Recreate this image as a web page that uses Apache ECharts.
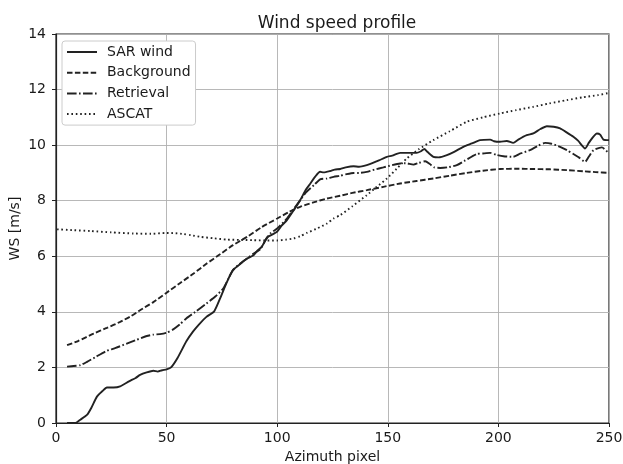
<!DOCTYPE html>
<html><head><meta charset="utf-8">
<script src="https://cdn.jsdelivr.net/npm/echarts@6/dist/echarts.min.js"></script>
<style>html,body{margin:0;padding:0;background:#fff}#c{width:623px;height:464px}</style>
</head><body><div id="c"></div>
<script>
const seriesNames = ['SAR wind', 'Background', 'Retrieval', 'ASCAT'];
const xTicks = [0, 50, 100, 150, 200, 250];
const yTicks = [0, 2, 4, 6, 8, 10, 12, 14];

const sarX = [5,8.8,11,14,16,18.5,21,23,26,29,33,36,38,41,44,46,48,50,52,55,59,62,65,68,71.5,74,77.3,80,83.3,86,89.3,91,93,95.4,97,99.9,102,104.4,107,110.4,113,115,117,119.4,121,124,126,128.5,131,134.5,137,140.5,143,146,149.6,152,155.6,159,163,165,166.5,168,170.6,173,176.7,180,184.2,188,191.7,196.3,198,200.7,203.8,206.7,209,212.8,215.8,219,221.9,225,227.9,231,233.9,236,239.2,241,244.5,246,247.5,250];
const sarY = [0,0,0.12,0.29,0.55,0.95,1.15,1.28,1.28,1.32,1.5,1.62,1.73,1.82,1.88,1.85,1.9,1.93,2.0,2.35,2.95,3.3,3.58,3.82,4.02,4.45,5.08,5.5,5.72,5.9,6.04,6.2,6.34,6.68,6.75,6.88,7.1,7.3,7.6,8.02,8.4,8.62,8.85,9.04,9.02,9.07,9.12,9.14,9.2,9.24,9.22,9.28,9.35,9.45,9.58,9.62,9.72,9.72,9.72,9.78,9.86,9.75,9.58,9.56,9.64,9.76,9.94,10.06,10.18,10.2,10.14,10.12,10.15,10.08,10.2,10.36,10.42,10.58,10.68,10.66,10.6,10.45,10.3,10.16,9.88,10.1,10.42,10.38,10.2,10.18];

const bgX = [5,10,17,23,29,34,38,44,50,56,62.2,68,74.3,80,86.4,93,100,105,110.4,116,122.5,128.5,134,140.5,148,155.6,163,170.6,178,185.7,193,200.7,208.3,216,223.3,231,238.4,244,250];
const bgY = [2.8,2.95,3.22,3.42,3.64,3.85,4.06,4.35,4.69,5.03,5.38,5.73,6.08,6.4,6.7,7.05,7.36,7.58,7.78,7.93,8.08,8.18,8.28,8.38,8.5,8.62,8.71,8.8,8.9,9.0,9.08,9.14,9.15,9.14,9.13,9.1,9.06,9.03,9.0];

const retX = [5,8,11,14,18,23,27,32,36,41,44,47,50,53,56,59,63,68,72,75.6,78,80,83,86.4,89,92.3,94.5,96.9,100,104.4,107,110.4,113,116.6,119.4,122.5,125.5,128.5,131,134.5,137,140.5,144,148,152,155.6,158,161.6,164,166.9,169,171,173.7,177,181.2,185,190.2,193,196.3,199,202.3,206.7,210,214.3,218,221.1,224,227.9,231,233.9,236.5,239.2,241,243,246.8,249.7];
const retY = [2.03,2.05,2.08,2.2,2.38,2.6,2.7,2.86,2.98,3.13,3.18,3.2,3.25,3.37,3.55,3.77,4.0,4.3,4.55,4.84,5.2,5.5,5.72,5.92,6.08,6.25,6.55,6.82,7.0,7.36,7.65,8.02,8.3,8.56,8.77,8.8,8.86,8.9,8.95,9.0,9.0,9.04,9.12,9.2,9.28,9.34,9.35,9.3,9.36,9.42,9.32,9.2,9.18,9.2,9.28,9.45,9.68,9.7,9.72,9.65,9.6,9.58,9.7,9.82,9.98,10.08,10.05,9.94,9.82,9.68,9.55,9.4,9.6,9.82,9.92,9.72];

const ascX = [0.5,8,15.5,25,35,43,50,54,57.7,61,65.2,71,77.3,83,89.3,95,100,104,107.4,110.4,113.4,118,122.5,125.5,128.5,134,140.5,145,149.6,154,158.6,164,170.6,178,185.7,193,200.7,208,215.8,223,230.9,238,245,250];
const ascY = [6.97,6.94,6.91,6.86,6.82,6.81,6.84,6.83,6.8,6.76,6.7,6.65,6.6,6.59,6.58,6.57,6.57,6.6,6.64,6.72,6.84,7.0,7.18,7.36,7.48,7.8,8.2,8.5,8.8,9.15,9.52,9.85,10.18,10.5,10.84,11.0,11.14,11.26,11.38,11.5,11.62,11.72,11.8,11.88];

const zip = (xs, ys) => xs.map((x, i) => [x, ys[i]]);
const col = '#222222';
const txt = '#1a1a1a';
const font = 'DejaVu Sans';

function mk(name, xs, ys, type) {
  return {
    name, type: 'line', data: zip(xs, ys), symbol: 'none', smooth: 0.2,
    lineStyle: { color: col, width: 1.9, type: type, cap: 'butt' },
    itemStyle: { color: col }
  };
}

const chart = echarts.init(document.getElementById('c'), null, { renderer: 'canvas' });
chart.setOption({
  animation: false,
  textStyle: { fontFamily: font },
  title: {
    text: 'Wind speed profile', left: 332, top: 10, textAlign: 'center',
    textStyle: { fontFamily: font, fontSize: 17, fontWeight: 'normal', color: txt }
  },
  grid: { left: 56, right: 14, top: 34, bottom: 41, containLabel: false, outerBoundsMode: 'none',
    show: true, borderColor: '#222', borderWidth: 1.2, backgroundColor: 'transparent' },
  legend: {
    left: 62, top: 41, orient: 'vertical',
    data: seriesNames,
    itemWidth: 30, itemHeight: 14, itemGap: 6.7,
    padding: [4, 5, 4, 4],
    itemStyle: { opacity: 0 },
    backgroundColor: '#fff', borderColor: '#cccccc', borderWidth: 1, borderRadius: 3,
    textStyle: { fontFamily: font, fontSize: 14, color: txt, padding: [0, 0, 0, 5] }
  },
  xAxis: {
    type: 'value', min: 0, max: 250, interval: 50,
    name: 'Azimuth pixel', nameLocation: 'middle', nameGap: 27, nameMoveOverlap: false,
    nameTextStyle: { fontFamily: font, fontSize: 14, color: txt },
    axisLine: { show: true, onZero: false, lineStyle: { color: '#222', width: 1.2 } },
    axisTick: { show: true, inside: false, length: 4, lineStyle: { color: '#222' } },
    axisLabel: { fontFamily: font, fontSize: 14, color: txt, margin: 8,
      formatter: v => xTicks.includes(v) ? String(v) : '' },
    splitLine: { show: true, lineStyle: { color: '#b0b0b0', width: 0.9 } }
  },
  yAxis: {
    type: 'value', min: 0, max: 14, interval: 2,
    name: 'WS [m/s]', nameLocation: 'middle', nameGap: 34, nameRotate: 90, nameMoveOverlap: false,
    nameTextStyle: { fontFamily: font, fontSize: 14, color: txt },
    axisLine: { show: true, onZero: false, lineStyle: { color: '#222', width: 1.2 } },
    axisTick: { show: true, inside: false, length: 4, lineStyle: { color: '#222' } },
    axisLabel: { fontFamily: font, fontSize: 14, color: txt, margin: 10,
      formatter: v => yTicks.includes(v) ? String(v) : '' },
    splitLine: { show: true, lineStyle: { color: '#b0b0b0', width: 0.9 } }
  },
  series: [
    mk(seriesNames[0], sarX, sarY, 'solid'),
    mk(seriesNames[1], bgX, bgY, [5.5, 2.4]),
    mk(seriesNames[2], retX, retY, [9.6, 2.4, 1.6, 2.4]),
    mk(seriesNames[3], ascX, ascY, [1.6, 2.8])
  ]
});
</script>
</body></html>
